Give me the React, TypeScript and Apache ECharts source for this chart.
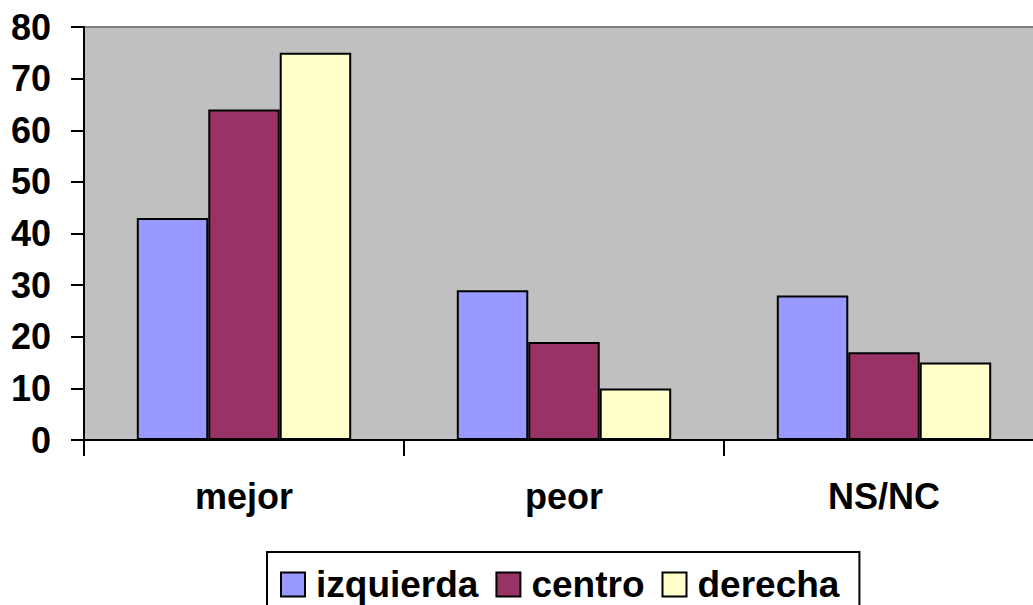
import React, { useEffect, useRef } from "react";
import * as echarts from "echarts";

const categories = ["mejor", "peor", "NS/NC"];
const izquierda = [43, 29, 28];
const centro = [64, 19, 17];
const derecha = [75, 10, 15];
const seriesNames = ["izquierda", "centro", "derecha"];
const colors = ["#9999FF", "#993366", "#FFFFCC"];

const FONT = "'Liberation Sans', Arial, sans-serif";

export default function App() {
  const ref = useRef<HTMLDivElement>(null);
  useEffect(() => {
    if (!ref.current) return;
    const chart = echarts.init(ref.current, undefined, { renderer: "svg" });
    const data = [izquierda, centro, derecha];
    chart.setOption({
      animation: false,
      backgroundColor: "#ffffff",
      textStyle: { fontFamily: FONT },
      grid: {
        left: 84,
        top: 27,
        width: 960,
        height: 413,
        show: true,
        backgroundColor: "#C0C0C0",
        borderColor: "#808080",
        borderWidth: 2,
      },
      xAxis: {
        type: "category",
        data: categories,
        axisLine: { lineStyle: { color: "#000", width: 2 } },
        axisTick: { show: true, length: 16, lineStyle: { color: "#000", width: 2 } },
        axisLabel: {
          margin: 38,
          color: "#000",
          fontSize: 36,
          fontWeight: "bold",
          fontFamily: FONT,
        },
      },
      yAxis: {
        type: "value",
        min: 0,
        max: 80,
        interval: 10,
        splitLine: { show: false },
        axisLine: { show: true, lineStyle: { color: "#000", width: 2 } },
        axisTick: { show: true, length: 13, lineStyle: { color: "#000", width: 2 } },
        axisLabel: {
          margin: 33,
          color: "#000",
          fontSize: 36,
          fontWeight: "bold",
          fontFamily: FONT,
        },
      },
      legend: {
        left: 267,
        top: 552,
        padding: [14, 20, 20, 13],
        borderColor: "#000",
        borderWidth: 2,
        itemWidth: 24,
        itemHeight: 24,
        itemGap: 17,
        icon: "rect",
        textStyle: {
          color: "#000",
          fontSize: 37,
          fontWeight: "bold",
          fontFamily: FONT,
          padding: [0, 0, 0, 6],
        },
        data: seriesNames,
      },
      series: seriesNames.map((name, i) => ({
        name,
        type: "bar",
        data: data[i],
        barGap: "0%",
        barCategoryGap: "33%",
        itemStyle: { color: colors[i], borderColor: "#000", borderWidth: 2 },
      })),
    });
    return () => chart.dispose();
  }, []);
  return (
    <div
      style={{
        position: "fixed",
        left: 0,
        top: 0,
        width: 1033,
        height: 605,
        overflow: "hidden",
        background: "#fff",
      }}
    >
      <div ref={ref} style={{ width: 1080, height: 605 }} />
    </div>
  );
}
